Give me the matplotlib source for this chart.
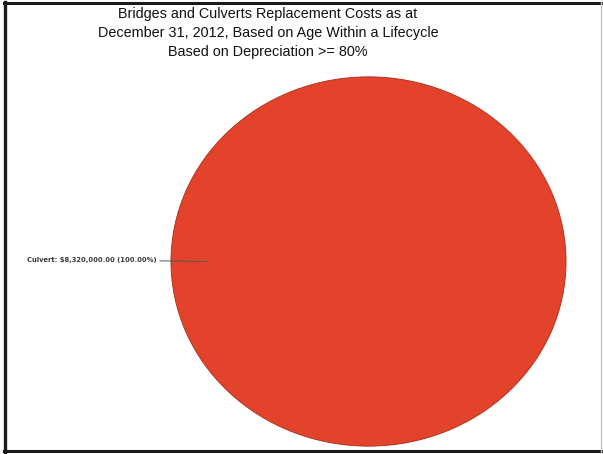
import matplotlib
matplotlib.use("Agg")
import matplotlib.pyplot as plt
from matplotlib.lines import Line2D

# asset category and its replacement cost
categories = ["Culvert"]
costs = [8320000.00]

title_lines = [
    "Bridges and Culverts Replacement Costs as at",
    "December 31, 2012, Based on Age Within a Lifecycle",
    "Based on Depreciation >= 80%",
]

W, H = 603, 454
fig = plt.figure(figsize=(W / 100, H / 100), dpi=100)
fig.patch.set_facecolor("white")

# page border: dark on left/top/bottom, faint on the right
def fig_line(xs, ys, color, lw):
    fig.lines.append(Line2D([x / W for x in xs], [1 - y / H for y in ys],
                            transform=fig.transFigure, color=color, linewidth=lw))

fig_line([5, 5], [2, 452], "#1a1a1a", 2.4)
fig_line([4, 601], [3, 3], "#1a1a1a", 2.2)
fig_line([4, 601], [451, 451], "#1a1a1a", 2.2)
fig_line([601, 601], [2, 452], "#c8c8c8", 1.0)

fig.text(268 / W, 1 - 7 / H, "\n".join(title_lines), ha="center", va="top",
         fontsize=10.4, family="Liberation Sans", linespacing=1.45, color="#111111")

# pie axes, left free to stretch so the pie is slightly oval
ax = fig.add_axes([169 / W, 1 - 448 / H, 399 / W, 373 / H])
ax.pie(costs, colors=["#e4432b"], startangle=90, counterclock=False,
       wedgeprops=dict(edgecolor="#a82a18", linewidth=0.6))
ax.set_aspect("auto")
ax.set_xlim(-1.01, 1.01)
ax.set_ylim(-1.01, 1.01)
ax.axis("off")

total = sum(costs)
label = "%s: $%s (%.2f%%)" % (categories[0], format(costs[0], ",.2f"), costs[0] / total * 100)
ax.annotate(label, xy=(-0.82, 0.0), xytext=(157 / W, 1 - 260 / H), textcoords="figure fraction",
            ha="right", va="center", fontsize=4.9, fontweight="bold", color="#3a3a3a",
            arrowprops=dict(arrowstyle="-", color="#555555", linewidth=0.7, shrinkA=0, shrinkB=0))

fig.savefig("out.png", dpi=100)
